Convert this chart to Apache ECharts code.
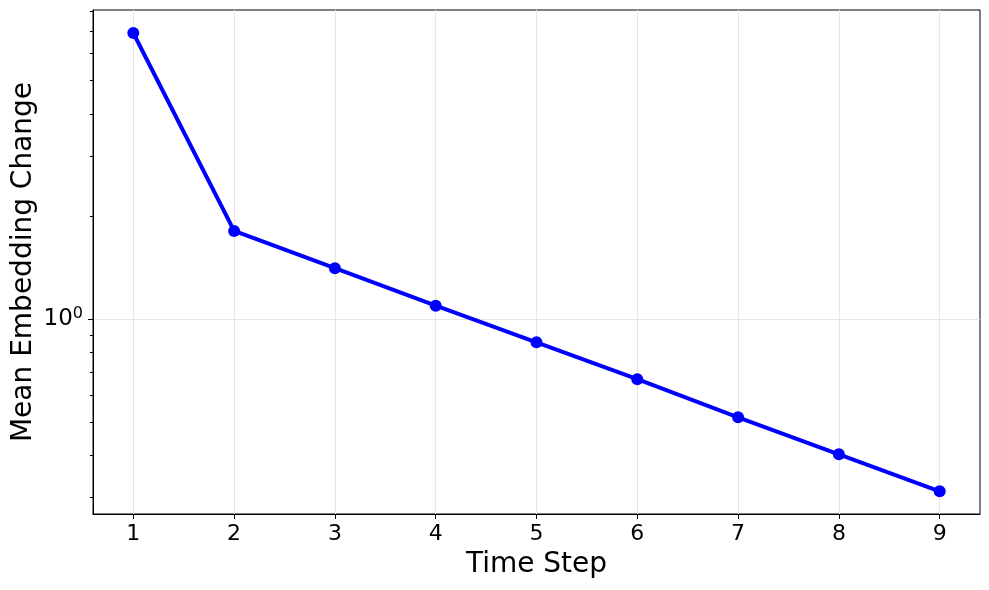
<!DOCTYPE html>
<html>
<head>
<meta charset="utf-8">
<title>Mean Embedding Change</title>
<script src="https://cdn.jsdelivr.net/npm/echarts@6/dist/echarts.min.js"></script>
<style>
  html, body { margin: 0; padding: 0; background: #fff; }
  #chart { width: 989px; height: 590px; }
</style>
</head>
<body>
<div id="chart"></div>
<script>
// values (log y axis)
const steps = [1, 2, 3, 4, 5, 6, 7, 8, 9];
const meanChange = [6.90, 1.815, 1.411, 1.096, 0.856, 0.667, 0.516, 0.402, 0.313];
const yMajorTicks = [1];
const yMinorTicks = [0.3, 0.4, 0.5, 0.6, 0.7, 0.8, 0.9, 2, 3, 4, 5, 6, 7, 8];
const xTicks = [1, 2, 3, 4, 5, 6, 7, 8, 9];

const chart = echarts.init(document.getElementById('chart'));
const font = 'DejaVu Sans';

chart.setOption({
  animation: false,
  textStyle: { fontFamily: font },
  grid: {
    left: 93, right: 9, top: 10, bottom: 76,
    show: true, borderColor: '#000', borderWidth: 1,
    outerBoundsMode: 'none'
  },
  xAxis: {
    type: 'value',
    min: 0.6,
    max: 9.4,
    name: 'Time Step',
    nameLocation: 'middle',
    nameGap: 37,
    nameTextStyle: { fontSize: 28, color: '#000', fontFamily: font },
    axisLine: { show: true, onZero: false, lineStyle: { color: '#000', width: 1 } },
    axisTick: { show: true, length: 5, inside: false, customValues: xTicks, lineStyle: { color: '#000' } },
    axisLabel: { customValues: xTicks, fontSize: 22, color: '#000', margin: 9, fontFamily: font },
    splitLine: { show: true, lineStyle: { color: '#e6e6e6', width: 1 } }
  },
  yAxis: [
    {
      type: 'log',
      logBase: 10,
      min: 0.2686,
      max: 8.06,
      name: 'Mean Embedding Change',
      nameLocation: 'middle',
      nameGap: 55,
      nameMoveOverlap: false,
      nameTextStyle: { fontSize: 28, color: '#000', fontFamily: font },
      axisLine: { show: true, lineStyle: { color: '#000', width: 1 } },
      axisTick: { show: true, length: 5, customValues: yMajorTicks, lineStyle: { color: '#000' } },
      axisLabel: {
        customValues: yMajorTicks,
        margin: 10,
        color: '#000',
        formatter: function (v) {
          const p = Math.round(Math.log10(v));
          return '{b|10}{s|' + p + '}';
        },
        rich: {
          b: { fontSize: 23, fontFamily: font, color: '#000' },
          s: { fontSize: 16, fontFamily: font, color: '#000', padding: [0, 0, 10, 0] }
        }
      },
      splitLine: { show: true, lineStyle: { color: '#e6e6e6', width: 1 } }
    },
    {
      type: 'log',
      logBase: 10,
      min: 0.2686,
      max: 8.06,
      position: 'left',
      axisLine: { show: false },
      axisTick: { show: true, length: 3, customValues: yMinorTicks, lineStyle: { color: '#000' } },
      axisLabel: { show: false },
      splitLine: { show: false }
    }
  ],
  series: [
    {
      type: 'line',
      yAxisIndex: 0,
      data: steps.map((s, i) => [s, meanChange[i]]),
      symbol: 'circle',
      symbolSize: 12,
      lineStyle: { color: '#0000ff', width: 4 },
      itemStyle: { color: '#0000ff' },
      z: 5
    }
  ]
});
</script>
</body>
</html>
